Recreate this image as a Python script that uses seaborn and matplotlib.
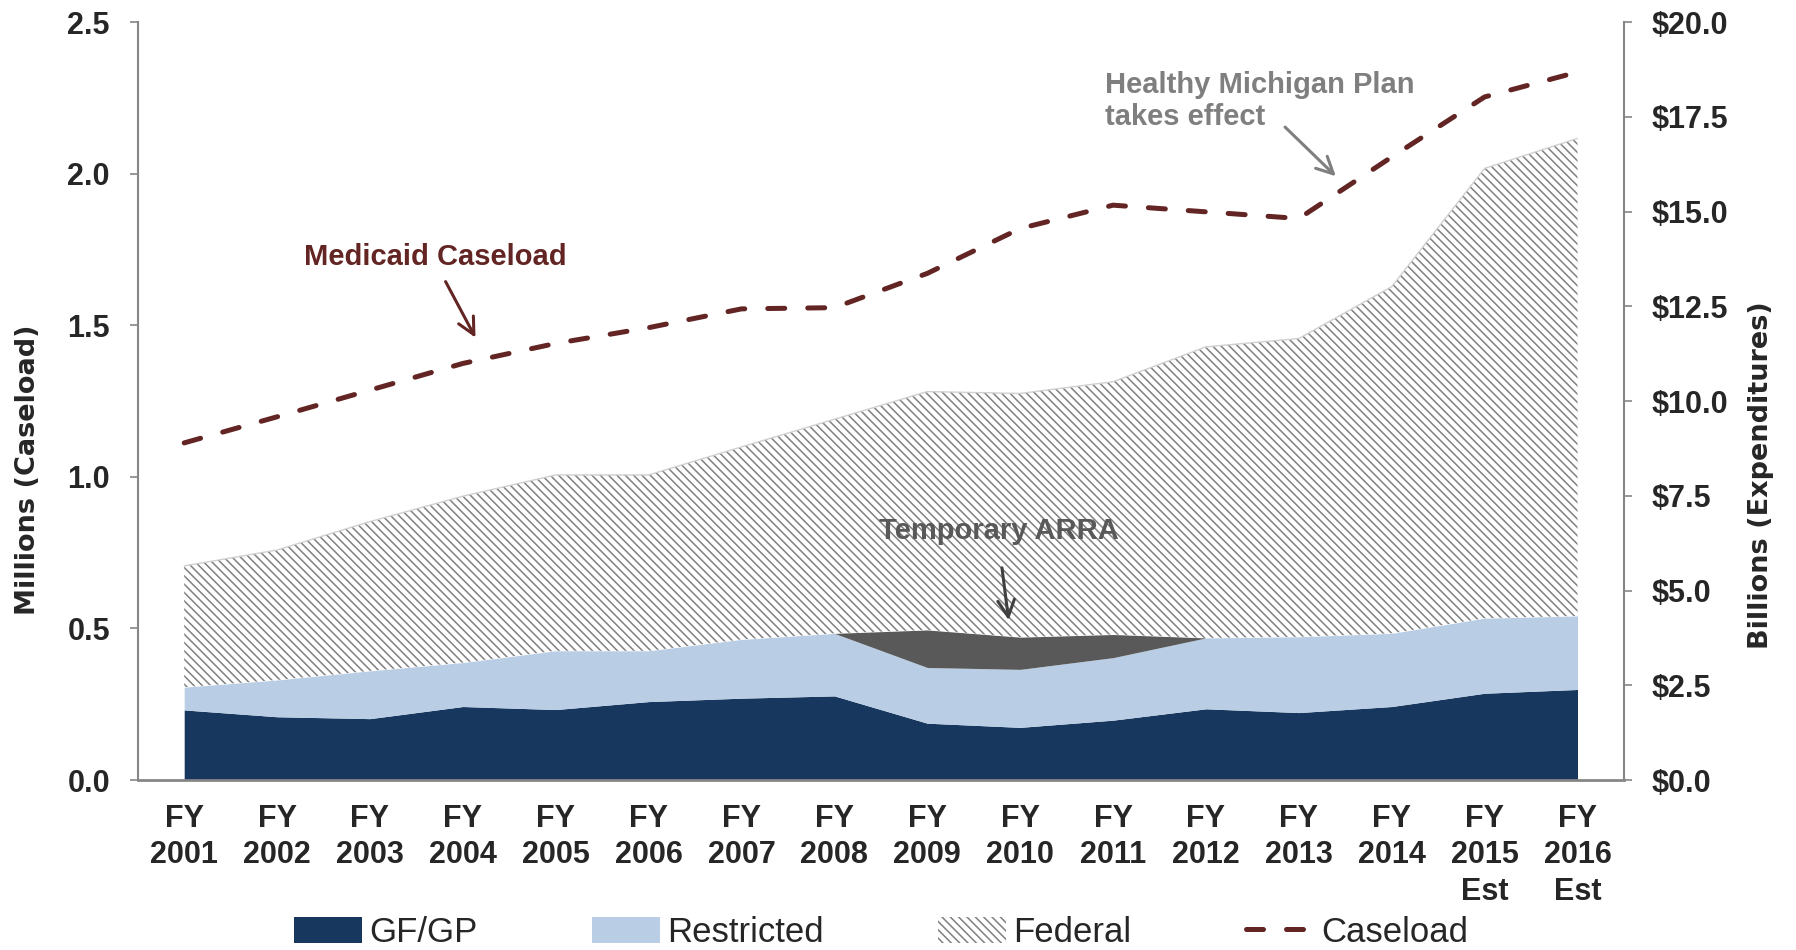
import numpy as np
import pandas as pd
import matplotlib
matplotlib.use("Agg")
import matplotlib.pyplot as plt
import matplotlib.ticker as mticker
import seaborn as sns

# ---- data (billions for the areas, millions for caseload) ----
fy_labels = ["FY\n2001", "FY\n2002", "FY\n2003", "FY\n2004", "FY\n2005", "FY\n2006",
             "FY\n2007", "FY\n2008", "FY\n2009", "FY\n2010", "FY\n2011", "FY\n2012",
             "FY\n2013", "FY\n2014", "FY\n2015\nEst", "FY\n2016\nEst"]
gfgp = [1.85, 1.67, 1.62, 1.94, 1.86, 2.07, 2.16, 2.22, 1.50, 1.39, 1.58, 1.88, 1.78, 1.94, 2.29, 2.39]
restricted = [0.60, 0.97, 1.26, 1.16, 1.55, 1.34, 1.55, 1.65, 1.47, 1.53, 1.65, 1.87, 2.00, 1.93, 1.98, 1.94]
arra = [0, 0, 0, 0, 0, 0, 0, 0, 0.99, 0.85, 0.61, 0, 0, 0, 0, 0]
federal = [3.20, 3.43, 3.94, 4.39, 4.64, 4.64, 5.08, 5.65, 6.29, 6.43, 6.67, 7.68, 7.87, 9.15, 11.87, 12.60]
caseload = [1.112, 1.198, 1.286, 1.374, 1.440, 1.492, 1.554, 1.558, 1.671, 1.819, 1.896, 1.874,
            1.852, 2.055, 2.253, 2.335]

df = pd.DataFrame({"idx": np.arange(len(fy_labels)), "GF/GP": gfgp, "Restricted": restricted,
                   "ARRA": arra, "Federal": federal, "Caseload": caseload})

sns.set_style("white")
plt.rcParams["font.family"] = ["Liberation Sans", "DejaVu Sans"]
plt.rcParams["hatch.linewidth"] = 1.1

NAVY = "#17375E"
LIGHT = "#B9CDE5"
DARKGRAY = "#595959"
HATCH = "#808080"
RED = "#632523"
SPINE = "#868686"

fig = plt.figure(figsize=(17.96, 9.5), dpi=100)
ax = fig.add_axes([0.0767, 0.1789, 0.8275, 0.7979])
ax2 = ax.twinx()

x = df["idx"].values
b1 = df["GF/GP"].values
b2 = b1 + df["Restricted"].values
b3 = b2 + df["ARRA"].values
b4 = b3 + df["Federal"].values

h1 = ax2.fill_between(x, 0, b1, facecolor=NAVY, linewidth=0, label="GF/GP")
h2 = ax2.fill_between(x, b1, b2, facecolor=LIGHT, linewidth=0, label="Restricted")
ax2.fill_between(x, b2, b3, facecolor=DARKGRAY, linewidth=0)
h3 = ax2.fill_between(x, b3, b4, facecolor="white", edgecolor=HATCH, linewidth=0,
                      hatch="\\\\\\\\", label="Federal")
ax2.plot(x, b4, color="#D0D0D0", lw=1)

# caseload line on the left axis, kept on top of the areas
ax.set_zorder(ax2.get_zorder() + 1)
ax.patch.set_visible(False)
sns.lineplot(data=df, x="idx", y="Caseload", ax=ax, color=RED, lw=3.6, label="Caseload")
line = ax.lines[-1]
line.set_linestyle((0, (3.4, 4.6)))
line.set_dash_capstyle("round")
if ax.get_legend():
    ax.get_legend().remove()

ax.set_xlim(-0.5, 15.5)
ax.set_ylim(0, 2.5)
ax2.set_ylim(0, 20)
ax.set_yticks(np.arange(0, 2.51, 0.5))
ax2.set_yticks(np.arange(0, 20.01, 2.5))
ax.yaxis.set_major_formatter(mticker.StrMethodFormatter("{x:.1f}"))
ax2.yaxis.set_major_formatter(mticker.StrMethodFormatter("${x:.1f}"))

ax.set_xticks(x)
ax.set_xticklabels(fy_labels)
ax.set_xticks(np.arange(-0.5, 15.6, 1), minor=True)
ax.tick_params(axis="x", which="major", length=0, pad=17, labelsize=22)
ax.tick_params(axis="x", which="minor", length=7, width=1.5, color=SPINE, direction="out")
ax.tick_params(axis="y", length=6, width=1.2, color=SPINE, direction="out", pad=14, labelsize=22)
ax2.tick_params(axis="y", length=6, width=1.2, color=SPINE, direction="out", pad=14, labelsize=22)
for lab in ax.get_xticklabels():
    lab.set_linespacing(1.28)
for lab in ax.get_xticklabels() + ax.get_yticklabels() + ax2.get_yticklabels():
    lab.set_fontweight("bold")

ax.set_xlabel("")
ax.set_ylabel("Millions (Caseload)", fontsize=19.5, fontweight="bold", family="DejaVu Sans")
ax2.set_ylabel("Billions (Expenditures)", fontsize=19.5, fontweight="bold", family="DejaVu Sans")
ax.yaxis.set_label_coords(-0.0651, 0.4095)
ax2.yaxis.set_label_coords(1.0836, 0.402)

for s in ["top", "right"]:
    ax.spines[s].set_visible(False)
for s in ["top", "left", "bottom"]:
    ax2.spines[s].set_visible(False)
ax.spines["left"].set_color(SPINE)
ax.spines["left"].set_linewidth(1.5)
ax.spines["bottom"].set_color(SPINE)
ax.spines["bottom"].set_linewidth(2)
ax2.spines["right"].set_color(SPINE)
ax2.spines["right"].set_linewidth(1.5)

# annotations
ax.text(2.70, 1.724, "Medicaid Caseload", color=RED, fontsize=21, fontweight="bold",
        ha="center", va="center")
ax.annotate("", xy=(3.15, 1.451), xytext=(2.80, 1.652),
            arrowprops=dict(arrowstyle="->", color=RED, lw=2.2, mutation_scale=30))
ax.text(9.91, 2.239, "Healthy Michigan Plan\ntakes effect", color="#7F7F7F", fontsize=21,
        fontweight="bold", ha="left", va="center", linespacing=1.2)
ax.annotate("", xy=(12.42, 1.985), xytext=(11.83, 2.160),
            arrowprops=dict(arrowstyle="->", color="#7F7F7F", lw=2.2, mutation_scale=30))
ax.text(8.77, 0.821, "Temporary ARRA", color=DARKGRAY, fontsize=21, fontweight="bold",
        ha="center", va="center")
ax.annotate("", xy=(8.88, 0.518), xytext=(8.80, 0.709),
            arrowprops=dict(arrowstyle="->", color="#404040", lw=2.2, mutation_scale=30))

fig.legend(handles=[h1, h2, h3, line], labels=["GF/GP", "Restricted", "Federal", "Caseload"],
           loc="center", bbox_to_anchor=(0.4905, 0.0184), ncol=4, frameon=False,
           fontsize=25, handlelength=1.96, handleheight=0.78, handletextpad=0.2,
           columnspacing=3.3, borderpad=0)

fig.savefig("out.png", dpi=100)
